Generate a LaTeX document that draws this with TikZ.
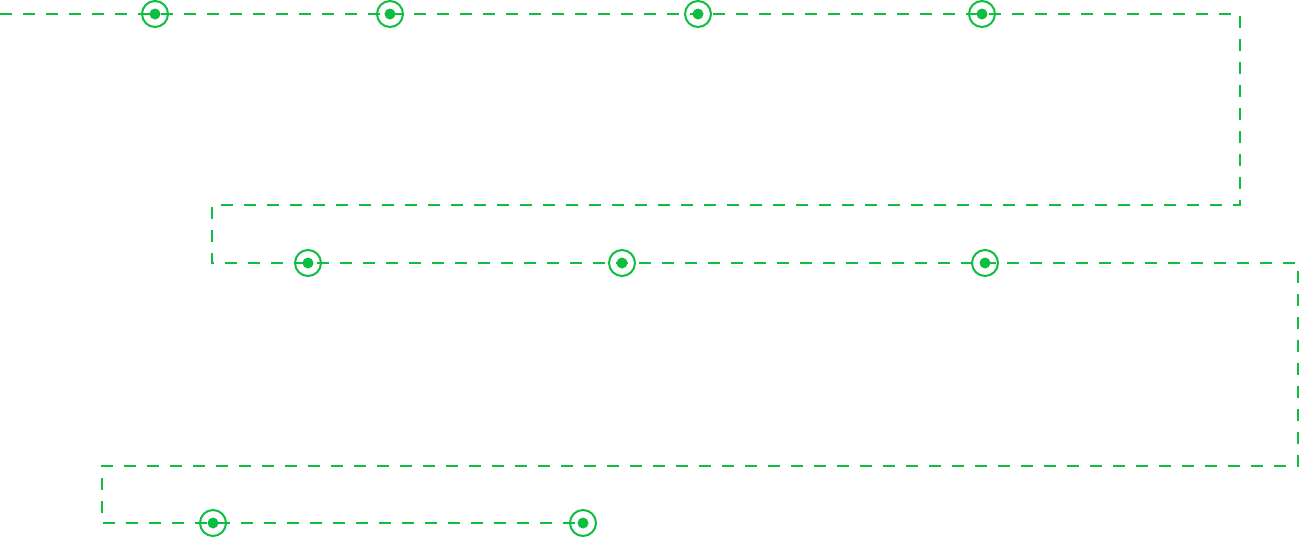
\documentclass[tikz,border=0pt]{standalone}
\usepackage{tikz}
\usepackage{xcolor}
\definecolor{routegreen}{RGB}{14,190,64}
\tikzset{
  stop/.style={circle,draw=routegreen,line width=1.5pt,minimum size=19.5pt,inner sep=0pt,outer sep=0pt},
  route/.style={draw=routegreen,line width=1.5pt,dash pattern={on 9pt off 8.25pt}}
}
\begin{document}
\begin{tikzpicture}[x=0.75pt,y=0.75pt,yscale=-1,xscale=1]
\useasboundingbox (0,0) rectangle (1299,537);
%Corners of the route
\coordinate (start) at (0,14);
\coordinate (c1) at (1240,14);
\coordinate (c2) at (1240,205);
\coordinate (c3) at (212,205);
\coordinate (c4) at (212,263);
\coordinate (c5) at (1298,263);
\coordinate (c6) at (1298,466);
\coordinate (c7) at (102,466);
\coordinate (c8) at (102,523);
%Stops
\node [stop] (s1) at (155,14) {};
\node [stop] (s2) at (390,14) {};
\node [stop] (s3) at (698,14) {};
\node [stop] (s4) at (982,14) {};
\node [stop] (s5) at (308,263) {};
\node [stop] (s6) at (622,263) {};
\node [stop] (s7) at (985,263) {};
\node [stop] (s8) at (213,523) {};
\node [stop] (s9) at (583,523) {};
%Route line
\draw [route] (start) -- (c1) -- (c2) -- (c3) -- (c4) -- (c5) -- (c6) -- (c7) -- (c8) -- (s9.center) ;
%Dots
\foreach \s in {s1,s2,s3,s4,s5,s6,s7,s8,s9}
  \fill [routegreen] (\s.center) circle (5.5) ;
\end{tikzpicture}
\end{document}
